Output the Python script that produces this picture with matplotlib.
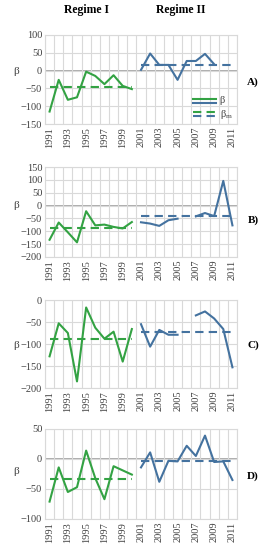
import numpy as np
import matplotlib
matplotlib.use("Agg")
import matplotlib.pyplot as plt

plt.rcParams["font.family"] = ["Liberation Serif", "DejaVu Serif"]
plt.rcParams["mathtext.fontset"] = "custom"
plt.rcParams["mathtext.rm"] = "Liberation Serif"

years = list(range(1991, 2012))
year_labels = [str(y) if (y - 1991) % 2 == 0 else "" for y in years]
panel_names = ["A)", "B)", "C)", "D)"]

# regime I: 1991-2000, regime II: 2001-2011 (None = missing year)
r1_A = [-115, -26, -82, -75, -3, -15, -38, -13, -43, -52]
r2_A = [2, 48, 16, 16, -26, 27, 27, 47, 18, None, None]
m1_A, m2_A = -47, 16

r1_B = [-133, -66, -104, -143, -22, -77, -74, -83, -89, -64]
r2_B = [-65, -70, -79, -57, -51, None, -42, -29, -41, 96, -77]
m1_B, m2_B = -86, -42

r1_C = [-128, -53, -75, -185, -17, -63, -88, -72, -140, -66]
r2_C = [-55, -106, -68, -79, -79, None, -35, -26, -42, -66, -153]
m1_C, m2_C = -88, -72

r1_D = [-71, -14, -55, -47, 14, -32, -67, -12, -19, -26]
r2_D = [-14, 11, -38, -3, -4, 22, 5, 39, -5, -4, -35]
m1_D, m2_D = -33, -3

ylims = [(-150, 100), (-200, 150), (-200, 0), (-100, 50)]
ysteps = [50, 50, 50, 50]

GREEN = "#33a243"
BLUE = "#44729f"
GRID = "#d9d9d9"

series = [(r1_A, r2_A, m1_A, m2_A), (r1_B, r2_B, m1_B, m2_B),
          (r1_C, r2_C, m1_C, m2_C), (r1_D, r2_D, m1_D, m2_D)]
# (top px, bottom px) of each plot area
boxes = [(35, 124), (167, 257), (300, 388), (429, 519)]
beta_y = [71, 205, 345, 472]
label_y = [82, 220, 345, 476]

W, H = 265, 550
fig = plt.figure(figsize=(W / 100, H / 100), dpi=100)

for i, ((r1, r2, m1, m2), (top, bot)) in enumerate(zip(series, boxes)):
    ax = fig.add_axes([45 / W, 1 - bot / H, 192 / W, (bot - top) / H])
    x1 = np.arange(10)
    x2 = np.arange(10, 21)
    y2 = np.array([np.nan if v is None else v for v in r2], dtype=float)
    ax.plot(x1, r1, color=GREEN, lw=1.5, zorder=3)
    ax.plot(x2, y2, color=BLUE, lw=1.5, zorder=3)
    ax.plot([x1[0], x1[-1]], [m1, m1], color=GREEN, lw=1.5, ls=(0, (4, 2.5)), zorder=3)
    ax.plot([x2[0], x2[-1]], [m2, m2], color=BLUE, lw=1.5, ls=(0, (4, 2.5)), zorder=3)

    lo, hi = ylims[i]
    ax.set_ylim(lo, hi)
    ax.set_xlim(-0.5, 20.5)
    ax.set_yticks(np.arange(lo, hi + 1, ysteps[i]))
    ax.set_xticks(np.arange(21))
    ax.set_xticklabels(year_labels, rotation=90)
    ax.set_xticks(np.arange(-0.5, 21, 1), minor=True)
    ax.tick_params(axis="both", which="major", length=0, labelsize=7.5,
                   labelcolor="#404040", pad=2)
    ax.tick_params(axis="x", which="minor", length=0)
    ax.grid(True, which="minor", axis="x", color=GRID, lw=0.8, zorder=0)
    ax.grid(True, which="major", axis="y", color=GRID, lw=0.8, zorder=0)
    ax.axhline(0, color="#a6a6a6", lw=1.3, zorder=1)
    for s in ax.spines.values():
        s.set_color(GRID)
        s.set_linewidth(0.8)

    fig.text(16 / W, 1 - beta_y[i] / H, "β", ha="center", va="center",
             fontsize=8, color="#404040")
    fig.text(253 / W, 1 - label_y[i] / H, panel_names[i], ha="center",
             va="center", fontsize=8, fontweight="bold")

    if i == 0:
        for yy, ls in [(0.26, "-"), (0.11, (0, (4, 2.5)))]:
            ax.plot([0.77, 0.89], [yy + 0.02, yy + 0.02], transform=ax.transAxes,
                    color=GREEN, lw=1.5, ls=ls, zorder=4)
            ax.plot([0.77, 0.89], [yy - 0.02, yy - 0.02], transform=ax.transAxes,
                    color=BLUE, lw=1.5, ls=ls, zorder=4)
        ax.text(0.91, 0.26, "β", transform=ax.transAxes, va="center",
                fontsize=7.5, color="#404040")
        ax.text(0.91, 0.11, r"β$_\mathrm{m}$", transform=ax.transAxes, va="center",
                fontsize=7.5, color="#404040")

fig.text(86 / W, 1 - 10 / H, "Regime I", ha="center", va="center",
         fontsize=8.5, fontweight="bold")
fig.text(181 / W, 1 - 10 / H, "Regime II", ha="center", va="center",
         fontsize=8.5, fontweight="bold")

fig.savefig("out.png", dpi=100)
